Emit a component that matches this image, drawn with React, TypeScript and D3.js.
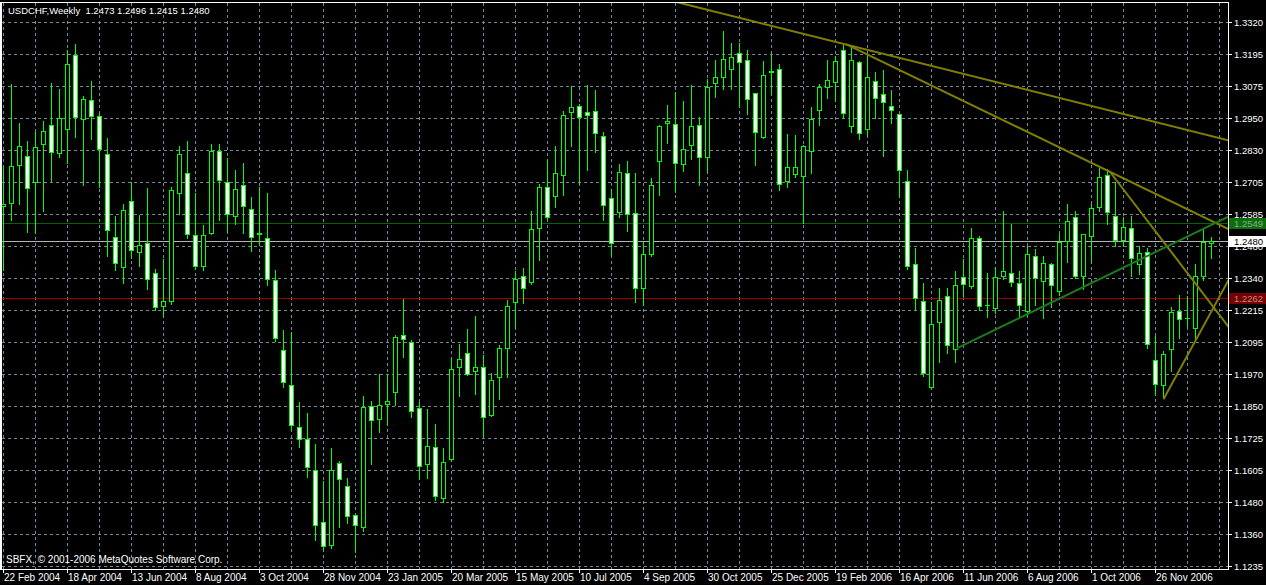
import React from "react";
import * as d3 from "d3";

const titleText = "USDCHF,Weekly  1.2473 1.2496 1.2415 1.2480";
const copyrightText = "SBFX, \u00a9 2001-2006 MetaQuotes Software Corp.";

// Weekly bars, 22 Feb 2004 ... 14 Jan 2007
const openPrices = [
  1.2616, 1.2625, 1.2771, 1.2807, 1.2706, 1.2852, 1.2926, 1.2817, 1.2911, 1.3192,
  1.2949, 1.3022, 1.2960, 1.2815, 1.2497, 1.2380, 1.2635, 1.2438, 1.2474, 1.2359,
  1.2231, 1.2250, 1.2665, 1.2742, 1.2504, 1.2386, 1.2512, 1.2826, 1.2708, 1.2577,
  1.2696, 1.2604, 1.2511, 1.2493, 1.2332, 1.2064, 1.1929, 1.1768, 1.1722, 1.1604,
  1.1404, 1.1315, 1.1631, 1.1542, 1.1431, 1.1385, 1.1849, 1.1799, 1.1857, 1.1901,
  1.2121, 1.2094, 1.1841, 1.1625, 1.1692, 1.1495, 1.1644, 1.1998, 1.2052, 1.1983,
  1.1998, 1.1814, 1.1960, 1.2071, 1.2248, 1.2347, 1.2324, 1.2530, 1.2688, 1.2654,
  1.2734, 1.2976, 1.2999, 1.2976, 1.2980, 1.2884, 1.2646, 1.2591, 1.2742, 1.2589,
  1.2301, 1.2430, 1.2788, 1.2934, 1.2928, 1.2777, 1.2849, 1.2926, 1.2803, 1.3087,
  1.3110, 1.3141, 1.3202, 1.3175, 1.3049, 1.2880, 1.3128, 1.3141, 1.2711, 1.2738,
  1.2730, 1.2826, 1.2983, 1.3072, 1.3089, 1.3213, 1.2921, 1.3167, 1.2911, 1.3095,
  1.3045, 1.2999, 1.2968, 1.2711, 1.2393, 1.2251, 1.1922, 1.2171, 1.2271, 1.2067,
  1.2343, 1.2307, 1.2493, 1.2236, 1.2225, 1.2347, 1.2359, 1.2320, 1.2214, 1.2422,
  1.2327, 1.2392, 1.2288, 1.2481, 1.2572, 1.2347, 1.2501, 1.2612, 1.2735, 1.2577,
  1.2484, 1.2531, 1.2392, 1.2439, 1.2025, 1.1929, 1.2066, 1.2213, 1.2187, 1.2148,
  1.2346, 1.2473,
];
const highPrices = [
  1.2767, 1.3084, 1.2931, 1.2862, 1.2900, 1.2939, 1.3088, 1.3065, 1.3213, 1.3234,
  1.3038, 1.3092, 1.2972, 1.2877, 1.2578, 1.2621, 1.2708, 1.2581, 1.2682, 1.2374,
  1.2410, 1.2689, 1.2845, 1.2862, 1.2663, 1.2543, 1.2854, 1.2854, 1.2799, 1.2751,
  1.2779, 1.2650, 1.2688, 1.2665, 1.2371, 1.2140, 1.2133, 1.1864, 1.1823, 1.1701,
  1.1562, 1.1689, 1.1639, 1.1574, 1.1432, 1.1888, 1.1869, 1.1969, 1.1969, 1.2121,
  1.2259, 1.2102, 1.1862, 1.1835, 1.1781, 1.1689, 1.2033, 1.2084, 1.2145, 1.2195,
  1.2044, 1.1975, 1.2083, 1.2253, 1.2364, 1.2379, 1.2596, 1.2700, 1.2796, 1.2845,
  1.2980, 1.3075, 1.3006, 1.3079, 1.3060, 1.2899, 1.2681, 1.2774, 1.2789, 1.2743,
  1.2476, 1.2724, 1.2927, 1.3000, 1.3051, 1.3019, 1.3077, 1.2954, 1.3100, 1.3175,
  1.3286, 1.3240, 1.3238, 1.3213, 1.3049, 1.3171, 1.3198, 1.3160, 1.2891, 1.2888,
  1.2849, 1.2995, 1.3083, 1.3176, 1.3190, 1.3238, 1.3225, 1.3171, 1.3193, 1.3128,
  1.3137, 1.3061, 1.2969, 1.2751, 1.2452, 1.2320, 1.2248, 1.2302, 1.2299, 1.2366,
  1.2410, 1.2531, 1.2501, 1.2359, 1.2382, 1.2596, 1.2547, 1.2366, 1.2461, 1.2451,
  1.2422, 1.2398, 1.2509, 1.2624, 1.2594, 1.2508, 1.2623, 1.2761, 1.2755, 1.2708,
  1.2571, 1.2577, 1.2461, 1.2453, 1.2116, 1.2058, 1.2227, 1.2273, 1.2269, 1.2393,
  1.2527, 1.2496,
];
const lowPrices = [
  1.2371, 1.2563, 1.2621, 1.2517, 1.2513, 1.2594, 1.2710, 1.2804, 1.2781, 1.2881,
  1.2694, 1.2873, 1.2689, 1.2425, 1.2371, 1.2319, 1.2417, 1.2383, 1.2296, 1.2215,
  1.2192, 1.2240, 1.2586, 1.2491, 1.2375, 1.2371, 1.2506, 1.2560, 1.2516, 1.2545,
  1.2511, 1.2442, 1.2465, 1.2311, 1.2097, 1.1922, 1.1758, 1.1690, 1.1575, 1.1334,
  1.1296, 1.1303, 1.1384, 1.1399, 1.1288, 1.1368, 1.1625, 1.1748, 1.1775, 1.1851,
  1.2035, 1.1805, 1.1567, 1.1574, 1.1487, 1.1480, 1.1638, 1.1886, 1.1968, 1.1893,
  1.1735, 1.1809, 1.1874, 1.1959, 1.2146, 1.2242, 1.2315, 1.2407, 1.2564, 1.2610,
  1.2656, 1.2845, 1.2700, 1.2753, 1.2821, 1.2562, 1.2426, 1.2572, 1.2518, 1.2246,
  1.2237, 1.2422, 1.2656, 1.2855, 1.2668, 1.2748, 1.2794, 1.2694, 1.2744, 1.3032,
  1.3062, 1.3062, 1.2993, 1.2967, 1.2771, 1.2876, 1.3043, 1.2675, 1.2687, 1.2725,
  1.2550, 1.2742, 1.2924, 1.3027, 1.3019, 1.2953, 1.2898, 1.2871, 1.2882, 1.2951,
  1.2806, 1.2932, 1.2648, 1.2373, 1.2215, 1.1962, 1.1919, 1.2016, 1.2051, 1.2016,
  1.2269, 1.2300, 1.2215, 1.2189, 1.2204, 1.2334, 1.2309, 1.2192, 1.2192, 1.2237,
  1.2185, 1.2228, 1.2274, 1.2401, 1.2340, 1.2296, 1.2402, 1.2596, 1.2544, 1.2462,
  1.2463, 1.2346, 1.2356, 1.2070, 1.1892, 1.1880, 1.1982, 1.2110, 1.2154, 1.2110,
  1.2330, 1.2415,
];
const closePrices = [
  1.2623, 1.2769, 1.2845, 1.2683, 1.2842, 1.2903, 1.2822, 1.2953, 1.3160, 1.2957,
  1.3023, 1.2960, 1.2834, 1.2524, 1.2397, 1.2600, 1.2445, 1.2466, 1.2336, 1.2228,
  1.2251, 1.2677, 1.2815, 1.2508, 1.2386, 1.2504, 1.2826, 1.2715, 1.2585, 1.2681,
  1.2616, 1.2497, 1.2508, 1.2336, 1.2110, 1.1941, 1.1776, 1.1722, 1.1615, 1.1393,
  1.1312, 1.1604, 1.1569, 1.1427, 1.1393, 1.1845, 1.1795, 1.1853, 1.1868, 1.2113,
  1.2106, 1.1830, 1.1617, 1.1696, 1.1503, 1.1634, 1.1991, 1.2029, 1.1972, 1.1998,
  1.1807, 1.1949, 1.2071, 1.2232, 1.2336, 1.2301, 1.2527, 1.2688, 1.2573, 1.2742,
  1.2964, 1.2995, 1.2957, 1.2964, 1.2895, 1.2619, 1.2474, 1.2746, 1.2585, 1.2301,
  1.2432, 1.2696, 1.2922, 1.2939, 1.2780, 1.2834, 1.2922, 1.2803, 1.3072, 1.3110,
  1.3179, 1.3187, 1.3167, 1.3026, 1.2899, 1.3118, 1.3134, 1.2700, 1.2765, 1.2765,
  1.2845, 1.2949, 1.3072, 1.3098, 1.3171, 1.2972, 1.3175, 1.2895, 1.3110, 1.3029,
  1.3014, 1.2983, 1.2753, 1.2386, 1.2263, 1.1975, 1.2163, 1.2255, 1.2083, 1.2313,
  1.2317, 1.2493, 1.2232, 1.2236, 1.2343, 1.2366, 1.2324, 1.2236, 1.2432, 1.2337,
  1.2396, 1.2313, 1.2478, 1.2558, 1.2347, 1.2508, 1.2606, 1.2727, 1.2590, 1.2485,
  1.2535, 1.2416, 1.2435, 1.2087, 1.1933, 1.2048, 1.2209, 1.2182, 1.2187, 1.2347,
  1.2478, 1.2480,
];

// axis labels (one date label every 8 weekly bars)
const dateLabels = [
  "22 Feb 2004", "18 Apr 2004", "13 Jun 2004", "8 Aug 2004", "3 Oct 2004",
  "28 Nov 2004", "23 Jan 2005", "20 Mar 2005", "15 May 2005", "10 Jul 2005",
  "4 Sep 2005", "30 Oct 2005", "25 Dec 2005", "19 Feb 2006", "16 Apr 2006",
  "11 Jun 2006", "6 Aug 2006", "1 Oct 2006", "26 Nov 2006",
];
const priceLabels = [
  "1.3320", "1.3195", "1.3075", "1.2950", "1.2830", "1.2705", "1.2585", "1.2460",
  "1.2340", "1.2215", "1.2095", "1.1970", "1.1850", "1.1725", "1.1605", "1.1480",
  "1.1360", "1.1235",
];

// horizontal line objects
const hLinePrices = [1.2549, 1.2480, 1.2262];
const hLineLabels = ["1.2549", "1.2480", "1.2262"];
const hLineColors = ["#006400", "#B4B4B4", "#A00000"];
const hLineBoxColors = ["#0C6E0C", "#FFFFFF", "#7A0000"];
const hLineTextColors = ["#8FA88F", "#000000", "#B88A8A"];

// trend lines: [barIndex1, price1, barIndex2, price2]
const trendLines = [
  [83, 1.3407, 153.2, 1.2868],
  [105.3, 1.3237, 153.2, 1.2527],
  [138.3, 1.2748, 153.2, 1.2151],
  [145.0, 1.1876, 153.2, 1.2337],
  [119.15, 1.2071, 153.2, 1.2577],
];
const trendColors = ["#808000", "#808000", "#808000", "#808000", "#1E7A1E"];

const W = 1266;
const H = 585;
const L = 2, R = 1228, T = 3, B = 569;

export default function App() {
  const n = openPrices.length;
  const x = d3.scaleLinear().domain([0, n - 1]).range([3.5, 3.5 + 8 * (n - 1)]);
  const y = d3.scaleLinear().domain([1.332, 1.1235]).range([22.5, 566.5]);
  const yGrid = d3.scalePoint<string>().domain(priceLabels).range([22.5, 566.5]);
  const gridBars = d3.range(0, n + 1, 4);
  const labelBars = d3.range(0, dateLabels.length).map((k) => k * 8);
  const font = "'Liberation Sans', Arial, sans-serif";
  const line = d3.line<[number, number]>().x((d) => x(d[0])).y((d) => y(d[1]));

  return (
    <svg width={W} height={H} style={{ position: "absolute", left: 0, top: 0, display: "block" }}>
      <defs>
        <clipPath id="plot">
          <rect x={L} y={T} width={R - L} height={B - T} />
        </clipPath>
      </defs>
      <rect x={0} y={0} width={W} height={H} fill="#000" />
      {/* grid */}
      <g stroke="#778899" strokeWidth={1} strokeDasharray="3,3" shapeRendering="crispEdges">
        {priceLabels.map((p) => (
          <line key={"h" + p} x1={L} x2={R} y1={yGrid(p)} y2={yGrid(p)} />
        ))}
        {gridBars.map((i) => (
          <line key={"v" + i} x1={x(i)} x2={x(i)} y1={T} y2={B} />
        ))}
      </g>
      {/* horizontal lines */}
      <g shapeRendering="crispEdges">
        {hLinePrices.map((p, k) => {
          const yy = Math.floor(y(p)) + 0.5;
          return <line key={"hl" + k} x1={L} x2={R} y1={yy} y2={yy} stroke={hLineColors[k]} strokeWidth={1} />;
        })}
      </g>
      {/* candles */}
      <g clipPath="url(#plot)" shapeRendering="crispEdges">
        {openPrices.map((o, i) => {
          const c = closePrices[i];
          const cx = x(i);
          const yH = Math.floor(y(highPrices[i]));
          const yL = Math.floor(y(lowPrices[i]));
          const yTop = Math.floor(y(Math.max(o, c)));
          const yBot = Math.floor(y(Math.min(o, c)));
          const bull = c >= o;
          return (
            <g key={i}>
              <line x1={cx} x2={cx} y1={yH} y2={yL + 1} stroke="#00FF00" strokeWidth={1} />
              {yBot - yTop < 1 ? (
                <line x1={cx - 2.5} x2={cx + 2.5} y1={yTop + 0.5} y2={yTop + 0.5} stroke="#00FF00" strokeWidth={1} />
              ) : (
                <rect
                  x={cx - 2}
                  y={yTop + 0.5}
                  width={4}
                  height={yBot - yTop}
                  fill={bull ? "#000000" : "#FFFFFF"}
                  stroke="#00FF00"
                  strokeWidth={1}
                />
              )}
            </g>
          );
        })}
      </g>
      {/* trend lines */}
      <g clipPath="url(#plot)" fill="none">
        {trendLines.map((t, k) => (
          <path
            key={"t" + k}
            d={line([[t[0], t[1]], [t[2], t[3]]]) || ""}
            stroke={trendColors[k]}
            strokeWidth={2}
          />
        ))}
      </g>
      {/* frame */}
      <g fill="none" stroke="#FFFFFF" strokeWidth={1} shapeRendering="crispEdges">
        <path d={`M${L - 0.5},${T - 0.5}H${R + 0.5}V${B + 0.5}H${L - 0.5}Z`} />
        <line x1={0.5} x2={0.5} y1={T - 1} y2={B + 1} />
      </g>
      {/* price axis */}
      <g fontFamily={font} fontSize={9.5} fill="#FFFFFF">
        {priceLabels.map((p) => (
          <g key={"pl" + p}>
            <line x1={R + 1} x2={R + 4} y1={yGrid(p)} y2={yGrid(p)} stroke="#FFFFFF" shapeRendering="crispEdges" />
            <text x={1234} y={yGrid(p)} dy="0.35em">{p}</text>
          </g>
        ))}
      </g>
      {hLinePrices.map((p, k) => {
        const yy = Math.floor(y(p)) + 0.5;
        return (
          <g key={"box" + k}>
            <rect x={R + 1} y={yy - 5.5} width={W - R - 1} height={11} fill={hLineBoxColors[k]} />
            <text x={1234} y={yy} dy="0.35em" fontFamily={font} fontSize={9.5} fill={hLineTextColors[k]}>
              {hLineLabels[k]}
            </text>
          </g>
        );
      })}
      {/* time axis */}
      <g fontFamily={font} fontSize={10} fill="#FFFFFF">
        {labelBars.map((i, k) => (
          <g key={"d" + i}>
            <line x1={x(i)} x2={x(i)} y1={B + 1} y2={B + 4} stroke="#FFFFFF" shapeRendering="crispEdges" />
            <text x={x(i) + 0.5} y={581}>{dateLabels[k]}</text>
          </g>
        ))}
      </g>
      <text x={8} y={14} fontFamily={font} fontSize={9.5} fill="#FFFFFF" style={{ whiteSpace: "pre" }}>
        {titleText}
      </text>
      <text x={6} y={563} fontFamily={font} fontSize={10} fill="#FFFFFF">
        {copyrightText}
      </text>
    </svg>
  );
}
